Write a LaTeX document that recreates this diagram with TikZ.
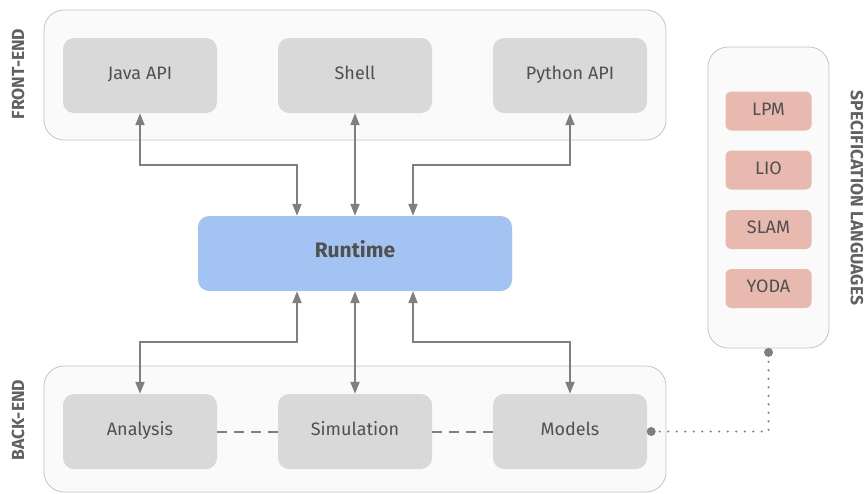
\documentclass[tikz,border=0pt]{standalone}
\usepackage{fontspec}
\setmainfont{Fira Sans}
\usetikzlibrary{arrows.meta}

\definecolor{modfill}{HTML}{D9D9D9}
\definecolor{runfill}{HTML}{A3C3F2}
\definecolor{langfill}{HTML}{E8B9AF}
\definecolor{layerfill}{HTML}{FAFAFA}
\definecolor{layerline}{HTML}{C4C4C4}
\definecolor{linkgray}{HTML}{7F7F7F}
\definecolor{textgray}{HTML}{505050}

\tikzset{
  layer/.style={draw=layerline, fill=layerfill, line width=0.8pt, rounded corners=20pt, inner sep=0pt},
  module/.style={fill=modfill, rounded corners=11pt, minimum width=154pt, minimum height=75pt,
    inner sep=0pt, text=textgray, text height=0.83em, text depth=0em, font=\fontsize{18}{21}\selectfont},
  lang/.style={fill=langfill, rounded corners=6pt, minimum width=86pt, minimum height=39pt,
    inner sep=0pt, text=textgray, text height=0.83em, text depth=0em, font=\fontsize{18}{21}\selectfont},
  sidelabel/.style={text=textgray!90, font=\bfseries\fontsize{17.5}{20}\selectfont},
  link/.style={draw=linkgray, line width=2pt, {Triangle[length=12pt,width=9pt]}-{Triangle[length=12pt,width=9pt]}},
  peer/.style={draw=linkgray, line width=2pt, dash pattern=on 10pt off 7pt},
  assoc/.style={draw=linkgray, line width=2.4pt, line cap=round, dash pattern=on 0pt off 8.5pt}
}

\begin{document}
\begin{tikzpicture}[x=1pt,y=-1pt]
    \useasboundingbox (0,0) rectangle (867,493);
    % Layers
    \node[layer, minimum width=622pt, minimum height=130pt] (front) at (355,75) {};
    \node[layer, minimum width=622pt, minimum height=126pt] (back) at (355,429) {};
    \node[layer, minimum width=121pt, minimum height=301pt] (spec) at (768.5,197.5) {};
    \node[sidelabel, rotate=90] (frontlbl) at (18,74) {FRONT-END};
    \node[sidelabel, rotate=90] (backlbl) at (18,420) {BACK-END};
    \node[sidelabel, rotate=-90] (speclbl) at (857,198) {SPECIFICATION LANGUAGES};
    % Front-end modules
    \node[module] (java) at (140,75.5) {Java API};
    \node[module] (shell) at (355,75.5) {Shell};
    \node[module] (python) at (570,75.5) {Python API};
    % Runtime
    \node[module, fill=runfill, minimum width=314pt, font=\bfseries\fontsize{21}{24}\selectfont] (runtime) at (355,253.5) {Runtime};
    % Back-end modules
    \node[module] (analysis) at (140,431.5) {Analysis};
    \node[module] (simulation) at (355,431.5) {Simulation};
    \node[module] (models) at (570,431.5) {Models};
    % Languages
    \foreach \name/\y in {LPM/111, LIO/170, SLAM/229.5, YODA/288.5}
        \node[lang] (\name) at (768.5,\y) {\name};
    % Links to the runtime
    \draw[link] (java.south) -- ++(0,52) -| ([xshift=-58pt]runtime.north);
    \draw[link] (shell) -- (runtime);
    \draw[link] (python.south) -- ++(0,52) -| ([xshift=58pt]runtime.north);
    \draw[link] ([xshift=-58pt]runtime.south) -- ++(0,51) -| (analysis.north);
    \draw[link] (runtime) -- (simulation);
    \draw[link] ([xshift=58pt]runtime.south) -- ++(0,51) -| (models.north);
    % Back-end peers
    \draw[peer] (analysis) -- (simulation);
    \draw[peer] (simulation) -- (models);
    % Models and languages
    \coordinate (mdot) at ([xshift=4pt]models.east);
    \coordinate (sdot) at ([yshift=-4pt]spec.south);
    \draw[assoc] (mdot) -| (sdot);
    \fill[linkgray] (mdot) circle (4.5pt);
    \fill[linkgray] (sdot) circle (4.5pt);
\end{tikzpicture}
\end{document}
